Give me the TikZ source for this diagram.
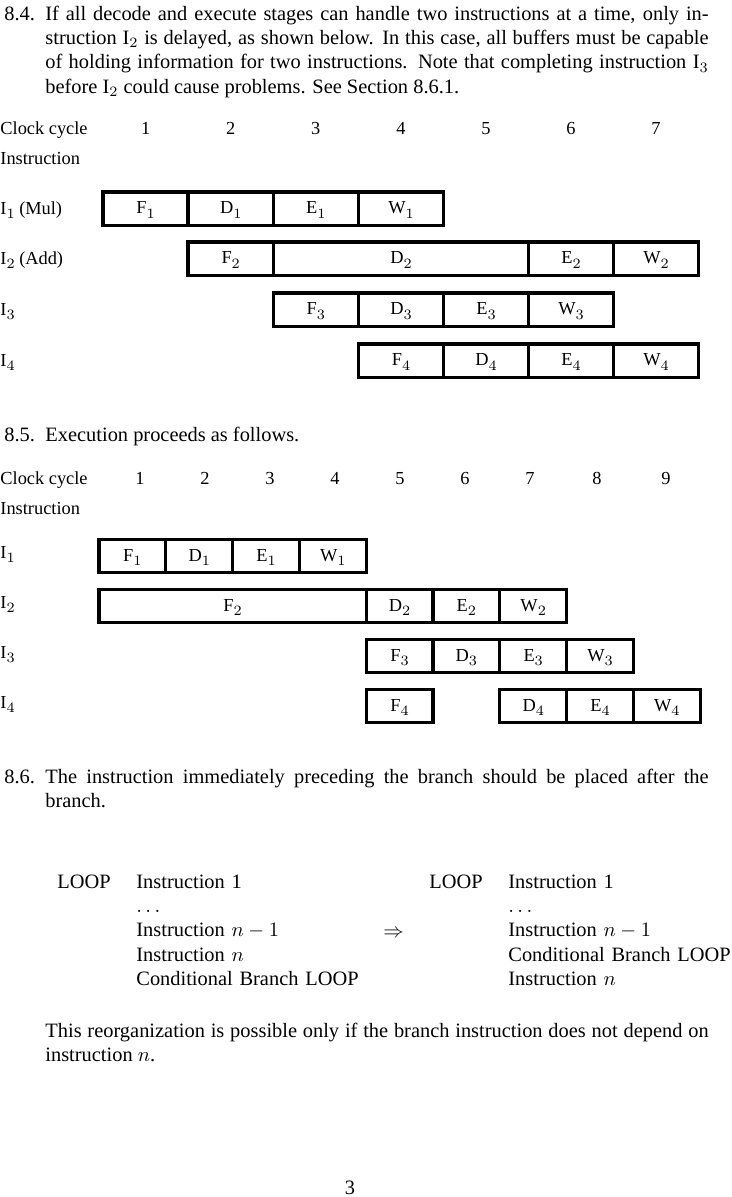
\documentclass[tikz,border=0pt]{standalone}
\usepackage{fontspec}
\setmainfont{Liberation Serif}
\usepackage{tikz}
\newcommand\isub[1]{\raisebox{-2.3pt}{\fontsize{7.5}{8}\selectfont$#1$}}

\begin{document}
\begin{tikzpicture}[x=0.49pt, y=-0.49pt,
  cell/.style={draw, line width=1.6pt, inner sep=0pt, minimum height=16.3pt, text height=6.5pt, text depth=1.6pt, font=\fontsize{9}{11}\selectfont},
  cola/.style={cell, minimum width=41.72pt},
  colb/.style={cell, minimum width=32.73pt},
  lbl/.style={anchor=base west, inner sep=0pt, font=\fontsize{9}{11}\selectfont},
  num/.style={anchor=base, inner sep=0pt, font=\fontsize{9}{11}\selectfont},
  para/.style={anchor=base west, inner sep=0pt, text width=325pt, align=justify, font=\fontsize{10}{12}\selectfont},
  txt/.style={anchor=base west, inner sep=0pt, font=\fontsize{10}{12}\selectfont},
  lst/.style={txt, text width=125pt, align=left}
]
  \useasboundingbox (0,0) rectangle (731,1197);

  % 8.4
  \node[txt] (n84) at (4,20) {8.4.};
  \node[para] (p84) at (45,20) {If all decode and execute stages can handle two instructions at a time, only instruction I$_2$ is delayed, as shown below. In this case, all buffers must be capable of holding information for two instructions. Note that completing instruction I$_3$ before I$_2$ could cause problems. See Section 8.6.1.};

  \node[lbl] (ca) at (0,134) {Clock cycle};
  \node[lbl] (ia) at (0,164) {Instruction};
  \foreach \c [count=\i] in {145.6,230.7,315.8,401,486,571,656}
    \node[num] (ca\i) at (\c,134) {\i};

  \node[lbl] (ra1) at (0,214) {I\isub1 (Mul)};
  \node[lbl] (ra2) at (0,264) {I\isub2 (Add)};
  \node[lbl] (ra3) at (0,315) {I\isub3};
  \node[lbl] (ra4) at (0,366) {I\isub4};

  \node[cola] (a1f) at (145.6,208.5) {F\isub1};
  \node[cola] (a1d) at (230.7,208.5) {D\isub1};
  \node[cola] (a1e) at (315.8,208.5) {E\isub1};
  \node[cola] (a1w) at (401,208.5) {W\isub1};

  \node[cola] (a2f) at (230.7,258.5) {F\isub2};
  \node[cola, minimum width=125.16pt] (a2d) at (401,258.5) {D\isub2};
  \node[cola] (a2e) at (571,258.5) {E\isub2};
  \node[cola] (a2w) at (656,258.5) {W\isub2};

  \node[cola] (a3f) at (315.8,309.5) {F\isub3};
  \node[cola] (a3d) at (401,309.5) {D\isub3};
  \node[cola] (a3e) at (486,309.5) {E\isub3};
  \node[cola] (a3w) at (571,309.5) {W\isub3};

  \node[cola] (a4f) at (401,360.5) {F\isub4};
  \node[cola] (a4d) at (486,360.5) {D\isub4};
  \node[cola] (a4e) at (571,360.5) {E\isub4};
  \node[cola] (a4w) at (656,360.5) {W\isub4};

  % 8.5
  \node[txt] (n85) at (4,441) {8.5.};
  \node[txt] (p85) at (45,441) {Execution proceeds as follows.};

  \node[lbl] (cb) at (0,484) {Clock cycle};
  \node[lbl] (ib) at (0,514) {Instruction};
  \foreach \c [count=\i] in {140,205,270,335,400,465,530,597,666}
    \node[num] (cb\i) at (\c,484) {\i};

  \node[lbl] (rb1) at (0,558) {I\isub1};
  \node[lbl] (rb2) at (0,608) {I\isub2};
  \node[lbl] (rb3) at (0,658) {I\isub3};
  \node[lbl] (rb4) at (0,708) {I\isub4};

  \node[colb] (b1f) at (132.4,556) {F\isub1};
  \node[colb] (b1d) at (199.2,556) {D\isub1};
  \node[colb] (b1e) at (266,556) {E\isub1};
  \node[colb] (b1w) at (332.8,556) {W\isub1};

  \node[colb, minimum width=130.92pt] (b2f) at (232.6,606) {F\isub2};
  \node[colb] (b2d) at (399.6,606) {D\isub2};
  \node[colb] (b2e) at (466.4,606) {E\isub2};
  \node[colb] (b2w) at (533.2,606) {W\isub2};

  \node[colb] (b3f) at (399.6,656) {F\isub3};
  \node[colb] (b3d) at (466.4,656) {D\isub3};
  \node[colb] (b3e) at (533.2,656) {E\isub3};
  \node[colb] (b3w) at (600,656) {W\isub3};

  \node[colb] (b4f) at (399.6,706) {F\isub4};
  \node[colb] (b4d) at (533.2,706) {D\isub4};
  \node[colb] (b4e) at (600,706) {E\isub4};
  \node[colb] (b4w) at (666.8,706) {W\isub4};

  % 8.6
  \node[txt] (n86) at (4,783) {8.6.};
  \node[para] (p86) at (45,783) {The instruction immediately preceding the branch should be placed after the branch.};

  \node[txt] (loopa) at (57,888) {LOOP};
  \node[lst] (lista) at (136,888) {Instruction 1\\ $\ldots$\\ Instruction $n-1$\\ Instruction $n$\\ Conditional Branch LOOP};
  \node[txt] (arrow) at (383,937) {$\Rightarrow$};
  \node[txt] (loopb) at (429,888) {LOOP};
  \node[lst] (listb) at (508,888) {Instruction 1\\ $\ldots$\\ Instruction $n-1$\\ Conditional Branch LOOP\\ Instruction $n$};

  \node[para] (pend) at (45,1037) {This reorganization is possible only if the branch instruction does not depend on instruction $n$.};

  \node[num, font=\fontsize{10}{12}\selectfont] (page) at (350,1194) {3};
\end{tikzpicture}
\end{document}
